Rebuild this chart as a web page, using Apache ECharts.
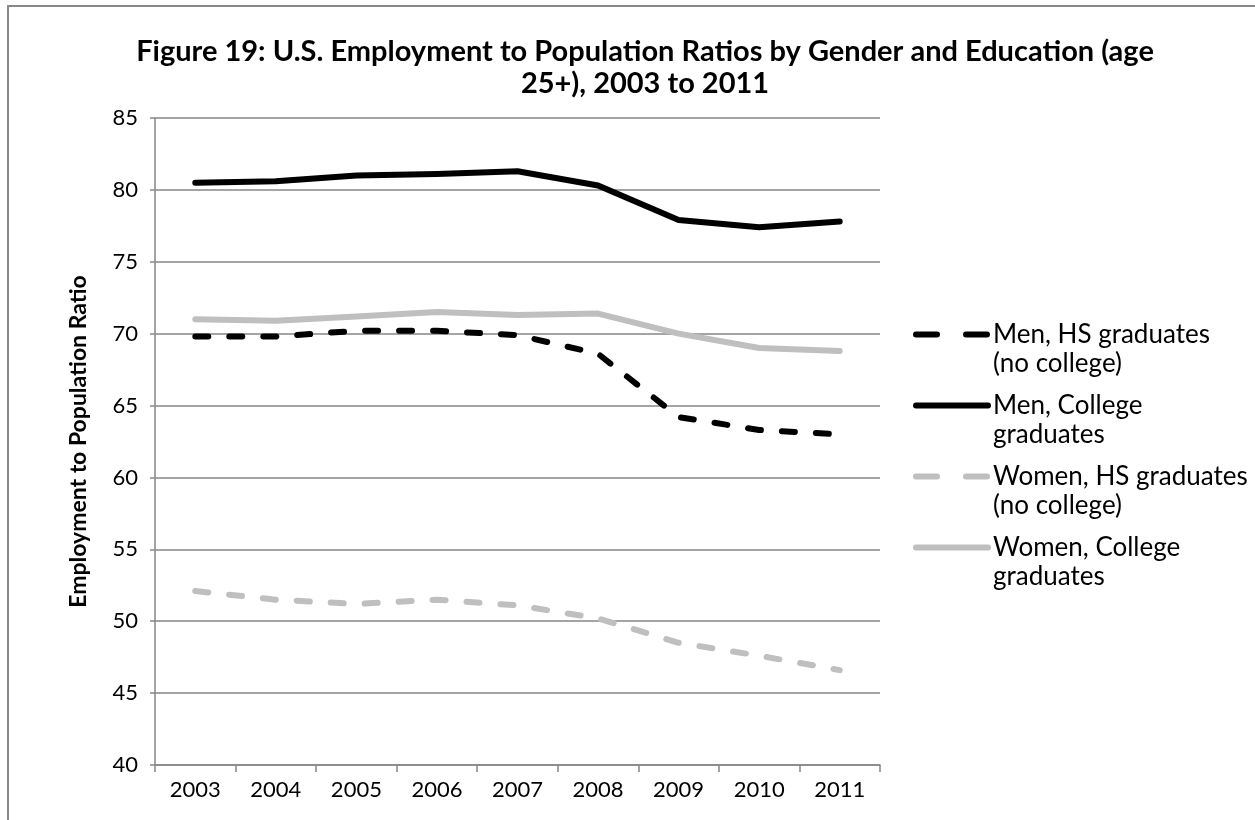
<!DOCTYPE html>
<html>
<head>
<meta charset="utf-8">
<script src="https://cdn.jsdelivr.net/npm/echarts@6/dist/echarts.min.js"></script>
<style>
  html, body { margin: 0; padding: 0; background: #fff; }
  #frame { position: absolute; left: 7px; top: 5px; width: 1300px; height: 900px;
           border-top: 2px solid #898989; border-left: 2px solid #898989; }
  #chart { position: absolute; left: 0; top: 0; width: 1255px; height: 820px; }
</style>
</head>
<body>
<div id="frame"></div>
<div id="chart"></div>
<script>
// Years on the category axis
const years = ['2003', '2004', '2005', '2006', '2007', '2008', '2009', '2010', '2011'];

// Employment-to-population ratios (percent), age 25+
const menHS        = [69.8, 69.8, 70.2, 70.2, 69.9, 68.6, 64.2, 63.3, 63.0];
const menCollege   = [80.5, 80.6, 81.0, 81.1, 81.3, 80.3, 77.9, 77.4, 77.8];
const womenHS      = [52.1, 51.5, 51.2, 51.5, 51.1, 50.2, 48.5, 47.6, 46.6];
const womenCollege = [71.0, 70.9, 71.2, 71.5, 71.3, 71.4, 70.0, 69.0, 68.8];

// Series labels (two lines each in the legend)
const seriesNames = [
  'Men, HS graduates\n(no college)',
  'Men, College\ngraduates',
  'Women, HS graduates\n(no college)',
  'Women, College\ngraduates'
];

const FONT = 'Lato, "Open Sans", sans-serif';
const GRID = '#868686';
const DASH = [13, 21];
const KEY_DASH = [21, 29];

function lineSeries(name, data, color, dashed) {
  return {
    name: name,
    type: 'line',
    data: data,
    symbol: 'none',
    smooth: false,
    lineStyle: { color: color, width: 6, type: dashed ? DASH : 'solid', cap: 'round', join: 'round' },
    itemStyle: { color: color }
  };
}

const chart = echarts.init(document.getElementById('chart'));
chart.setOption({
  animation: false,
  title: {
    text: 'Figure 19: U.S. Employment to Population Ratios by Gender and Education (age\n25+), 2003 to 2011',
    left: 640,
    textAlign: 'center',
    top: 31,
    textStyle: { fontFamily: FONT, fontWeight: 'bold', fontSize: 29, lineHeight: 32, color: '#000' }
  },
  grid: { left: 155, right: 375, top: 118, bottom: 55, containLabel: false },
  legend: {
    orient: 'vertical',
    left: 908,
    top: 286,
    itemWidth: 72,
    itemHeight: 28,
    itemGap: -16,
    itemStyle: { opacity: 0 },
    lineStyle: { width: 6, cap: 'round' },
    // leading blank line puts the first text line level with the key line
    formatter: function (name) { return '\n' + name; },
    textStyle: { fontFamily: FONT, fontSize: 26, color: '#000', lineHeight: 29 },
    data: [
      { name: seriesNames[0], lineStyle: { type: KEY_DASH } },
      { name: seriesNames[1] },
      { name: seriesNames[2], lineStyle: { type: KEY_DASH } },
      { name: seriesNames[3] }
    ]
  },
  xAxis: {
    type: 'category',
    data: years,
    boundaryGap: true,
    axisLine: { lineStyle: { color: GRID, width: 1.5 } },
    axisTick: { show: true, length: 7, lineStyle: { color: GRID, width: 1.5 } },
    axisLabel: { fontFamily: FONT, fontSize: 22, color: '#000', margin: 14 },
    splitLine: { show: false }
  },
  yAxis: {
    type: 'value',
    min: 40,
    max: 85,
    interval: 5,
    name: 'Employment to Population Ratio',
    nameLocation: 'middle',
    nameGap: 65,
    nameTextStyle: { fontFamily: FONT, fontWeight: 'bold', fontSize: 23, color: '#000' },
    axisLine: { show: true, lineStyle: { color: GRID, width: 1.5 } },
    axisTick: { show: true, length: 5, lineStyle: { color: GRID, width: 1.5 } },
    axisLabel: { fontFamily: FONT, fontSize: 22, color: '#000', margin: 17 },
    splitLine: { show: true, lineStyle: { color: GRID, width: 1.5 } }
  },
  series: [
    lineSeries(seriesNames[0], menHS, '#000000', true),
    lineSeries(seriesNames[1], menCollege, '#000000', false),
    lineSeries(seriesNames[2], womenHS, '#bfbfbf', true),
    lineSeries(seriesNames[3], womenCollege, '#bfbfbf', false)
  ]
});
</script>
</body>
</html>
